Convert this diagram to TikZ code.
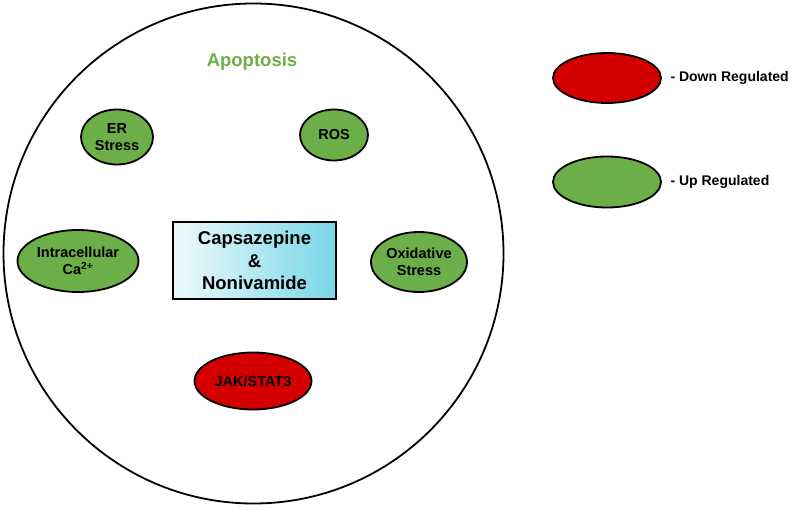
\documentclass[tikz,border=0pt]{standalone}
\usepackage{fontspec}
\setmainfont{Liberation Sans}
\usetikzlibrary{shapes.geometric}
\definecolor{upgreen}{RGB}{108,174,72}
\definecolor{downred}{RGB}{212,0,0}
\definecolor{boxcyan}{RGB}{120,214,232}
\begin{document}
\begin{tikzpicture}[x=1pt,y=-1pt,
  reg/.style={ellipse,draw=black,line width=1.8pt,inner sep=0pt,font=\bfseries\fontsize{14.5}{17}\selectfont,align=center},
  upreg/.style={reg,fill=upgreen},
  downreg/.style={reg,fill=downred},
  legtext/.style={anchor=west,font=\bfseries\fontsize{14}{16}\selectfont}]
\useasboundingbox (0,0) rectangle (800,508);
\node[circle,draw=black,line width=1.8pt,minimum size=500pt,inner sep=0pt] (cell) at (253.5,253.5) {};
\node[font=\bfseries\fontsize{18.5}{21}\selectfont,text=upgreen] (apop) at (252,62) {Apoptosis};
\node[upreg,minimum width=72pt,minimum height=55pt] (er) at (117,137) {ER\\Stress};
\node[upreg,minimum width=68pt,minimum height=51pt] (ros) at (334,135) {ROS};
\node[upreg,minimum width=121pt,minimum height=62pt] (ca) at (78,261) {Intracellular\\Ca\textsuperscript{2+}};
\node[upreg,minimum width=96pt,minimum height=60pt] (ox) at (419,262) {Oxidative\\Stress};
\node[downreg,minimum width=117pt,minimum height=57pt] (jak) at (253,381) {JAK/STAT3};
\node[draw=black,line width=1.6pt,left color=boxcyan!12,right color=boxcyan,minimum width=163pt,minimum height=77pt,inner sep=0pt,align=center,font=\bfseries\fontsize{18.5}{22.5}\selectfont] (drug) at (254.5,260.5) {Capsazepine\\\&\\Nonivamide};
\node[downreg,minimum width=108pt,minimum height=50pt] (legred) at (607,78) {};
\node[upreg,minimum width=108pt,minimum height=51pt] (leggreen) at (607,182) {};
\node[legtext] (legdown) at (667,78) {- Down Regulated};
\node[legtext] (legup) at (667,182) {- Up Regulated};
\end{tikzpicture}
\end{document}
